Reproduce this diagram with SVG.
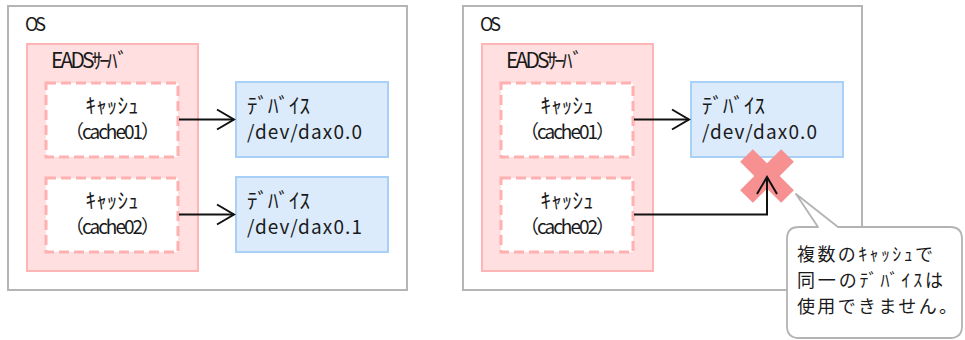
<svg xmlns="http://www.w3.org/2000/svg" width="965" height="340" viewBox="0 0 965 340">
<style>
text{font-family:"Noto Sans CJK JP","Noto Sans",sans-serif;fill:#1a1a1a}
.os{fill:#fff;stroke:#b5b5b5;stroke-width:2}
.srv{fill:#ffdfdf;stroke:#ffb5b5;stroke-width:2}
.cache{fill:#fff;stroke:#ffb0b0;stroke-width:3;stroke-dasharray:10 5}
.dev{fill:#dbebfc;stroke:#a9d1f7;stroke-width:2}
.lbl{font-size:18px}
.srvt{font-size:21px}
.kt{font-size:21px}
.nt{font-size:19px}
.ct{font-size:18px}
.con{fill:none;stroke:#111;stroke-width:2}
</style>
<defs>
<marker id="arr" markerUnits="userSpaceOnUse" markerWidth="22" markerHeight="24" viewBox="-1 -2 20 24" refX="17" refY="10" orient="auto">
<path d="M0,0 L17,10 L0,20" fill="none" stroke="#111" stroke-width="2"/>
</marker>
</defs>

<g id="os-left">
<rect class="os" x="8" y="6" width="399" height="284"/>
<text class="lbl" x="25" y="31" textLength="21">OS</text>
</g>
<g id="eads-left">
<rect class="srv" x="27" y="44" width="171" height="227"/>
<text class="srvt" x="51" y="68" textLength="77">EADSｻｰﾊﾞ</text>
</g>
<g id="cache01-left">
<rect class="cache" x="46" y="83" width="132" height="74"/>
<text class="kt" x="112" y="113" text-anchor="middle" textLength="53">ｷｬｯｼｭ</text>
<text class="nt" x="112.5" y="139" text-anchor="middle" textLength="95">（cache01）</text>
</g>
<g id="cache02-left">
<rect class="cache" x="46" y="178" width="132" height="74"/>
<text class="kt" x="112" y="208" text-anchor="middle" textLength="53">ｷｬｯｼｭ</text>
<text class="nt" x="112.5" y="234" text-anchor="middle" textLength="95">（cache02）</text>
</g>
<g id="dev0-left">
<rect class="dev" x="236" y="82" width="152" height="75"/>
<text class="kt" x="247" y="113" textLength="63">ﾃﾞﾊﾞｲｽ</text>
<text class="nt" x="247" y="139" textLength="115">/dev/dax0.0</text>
</g>
<g id="dev1-left">
<rect class="dev" x="236" y="177" width="152" height="75"/>
<text class="kt" x="247" y="208" textLength="63">ﾃﾞﾊﾞｲｽ</text>
<text class="nt" x="247" y="234" textLength="115">/dev/dax0.1</text>
</g>

<g id="os-right">
<rect class="os" x="463" y="6" width="399" height="284"/>
<text class="lbl" x="480" y="31" textLength="21">OS</text>
</g>
<g id="eads-right">
<rect class="srv" x="482" y="44" width="171" height="227"/>
<text class="srvt" x="506" y="68" textLength="77">EADSｻｰﾊﾞ</text>
</g>
<g id="cache01-right">
<rect class="cache" x="501" y="83" width="132" height="74"/>
<text class="kt" x="567" y="113" text-anchor="middle" textLength="53">ｷｬｯｼｭ</text>
<text class="nt" x="567.5" y="139" text-anchor="middle" textLength="95">（cache01）</text>
</g>
<g id="cache02-right">
<rect class="cache" x="501" y="178" width="132" height="74"/>
<text class="kt" x="567" y="208" text-anchor="middle" textLength="53">ｷｬｯｼｭ</text>
<text class="nt" x="567.5" y="234" text-anchor="middle" textLength="95">（cache02）</text>
</g>
<g id="dev0-right">
<rect class="dev" x="691" y="82" width="152" height="75"/>
<text class="kt" x="702" y="113" textLength="63">ﾃﾞﾊﾞｲｽ</text>
<text class="nt" x="702" y="139" textLength="115">/dev/dax0.0</text>
</g>
<g id="cross">
<g transform="translate(767,176) rotate(45)" fill="#f79191">
<rect x="-29" y="-9" width="58" height="18"/>
<rect x="-9" y="-29" width="18" height="58"/>
</g>
</g>

<g id="connectors">
<line class="con" x1="179" y1="119.5" x2="234" y2="119.5" marker-end="url(#arr)"/>
<line class="con" x1="179" y1="214.5" x2="234" y2="214.5" marker-end="url(#arr)"/>
<line class="con" x1="634" y1="119.5" x2="689" y2="119.5" marker-end="url(#arr)"/>
<polyline class="con" points="634,214.5 767,214.5 767,177" marker-end="url(#arr)"/>
</g>

<g id="callout">
<path d="M799,227 L818,227 L796,194 L838,227 L950,227 Q962,227 962,239 L962,326 Q962,338 950,338 L799,338 Q787,338 787,326 L787,239 Q787,227 799,227 Z" fill="#fff" stroke="#b3b3b3" stroke-width="1.8" stroke-linejoin="round"/>
<text class="ct" x="797" y="261" textLength="136">複数のｷｬｯｼｭで</text>
<text class="ct" x="797" y="287" textLength="146">同一のﾃﾞﾊﾞｲｽは</text>
<text class="ct" x="797" y="313" textLength="160">使用できません。</text>
</g>
</svg>
